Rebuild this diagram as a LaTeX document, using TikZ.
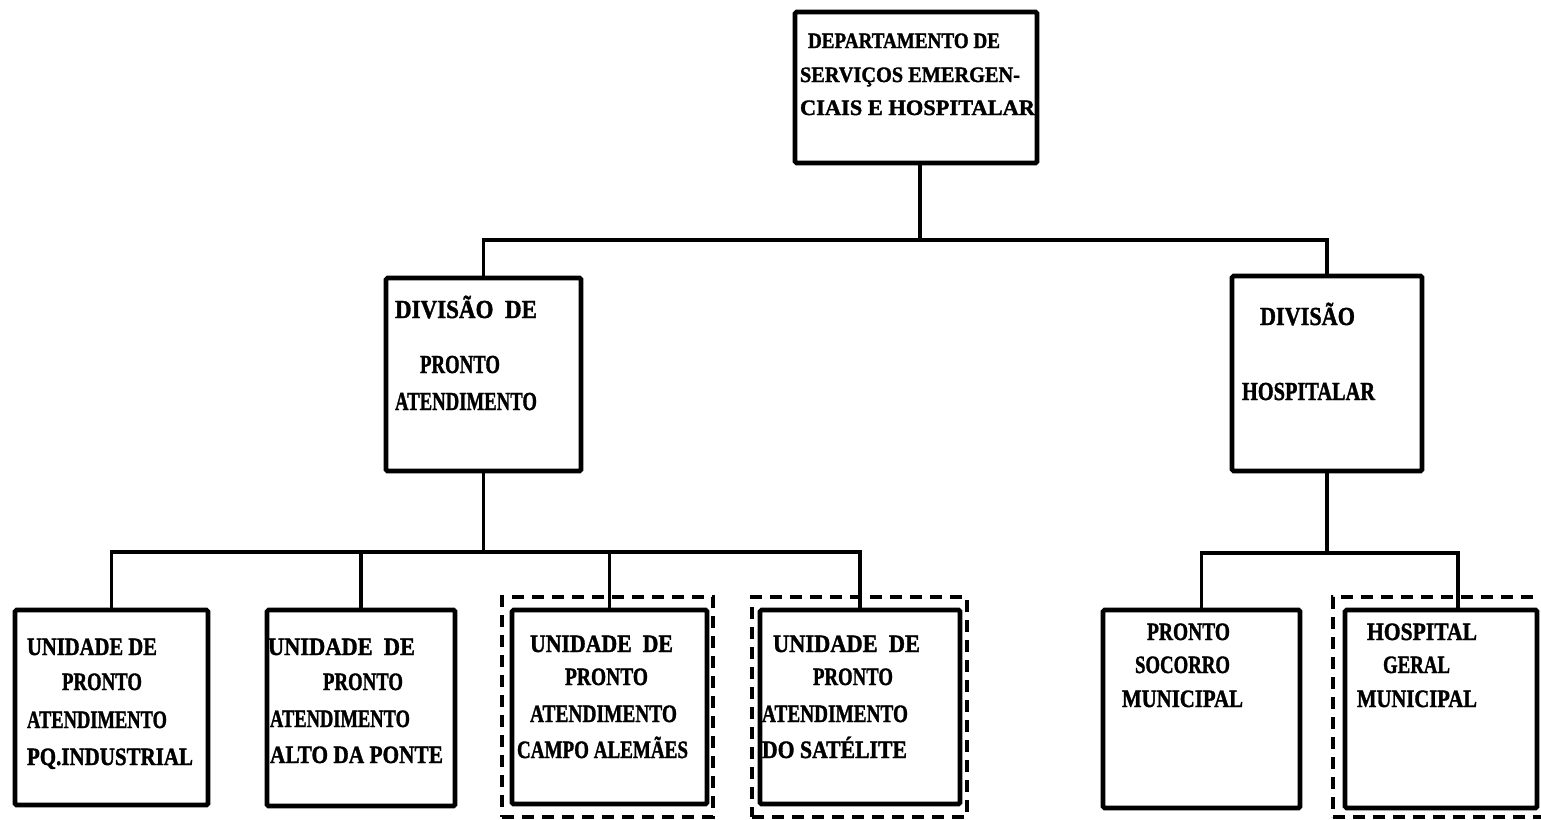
\documentclass[tikz,border=0pt]{standalone}
\usepackage{fontspec}
\setmainfont{Liberation Serif}[BoldFeatures={FakeBold=1.5}]
\usepackage{graphicx}
\newcommand\fitw[2]{\resizebox{#1pt}{\height}{#2}}
\begin{document}
\begin{tikzpicture}[x=1pt,y=-1pt,
  box/.style={draw, line width=4.6pt, rounded corners=1.5pt, inner sep=0pt, outer sep=0pt, anchor=north west},
  outerbox/.style={draw, line width=3.2pt, dash pattern=on 12pt off 8pt, inner sep=0pt, outer sep=0pt, anchor=north west},
  conn/.style={draw, line width=3.2pt},
  tx/.style={anchor=base west, inner sep=0pt, outer sep=0pt},
  ttop/.style={tx, font=\bfseries\fontsize{22}{22}\selectfont},
  tdiv/.style={tx, font=\bfseries\fontsize{26}{26}\selectfont},
  tbot/.style={tx, font=\bfseries\fontsize{25}{25}\selectfont}]
\useasboundingbox (0,0) rectangle (1541,819);
\fill[white] (0,0) rectangle (1541,819);

% boxes
\node[box, minimum width=242pt, minimum height=151pt] (top) at (795,12) {};
\node[box, minimum width=195pt, minimum height=193pt] (ldiv) at (386,278) {};
\node[box, minimum width=190pt, minimum height=195pt] (rdiv) at (1232,276) {};
\node[outerbox, minimum width=211pt, minimum height=220pt] (o3) at (502,597) {};
\node[outerbox, minimum width=215pt, minimum height=220pt] (o4) at (752,597) {};
\node[outerbox, minimum width=230pt, minimum height=220pt] (o6) at (1333,597) {};
\node[box, minimum width=193pt, minimum height=195pt] (b1) at (15,610) {};
\node[box, minimum width=188pt, minimum height=196pt] (b2) at (267,610) {};
\node[box, minimum width=195pt, minimum height=194pt] (b3) at (512,610) {};
\node[box, minimum width=200pt, minimum height=194pt] (b4) at (760,610) {};
\node[box, minimum width=197pt, minimum height=198pt] (b5) at (1103,610) {};
\node[box, minimum width=192pt, minimum height=198pt] (b6) at (1345,610) {};

% connectors
\coordinate (busA) at (920,240);
\coordinate (topout) at (920,163);
\draw[conn] (topout) -- (busA);
\draw[conn] (ldiv.north) |- (busA) -| (rdiv.north);
\coordinate (busB) at (ldiv.south |- 0,552);
\draw[conn] (ldiv.south) -- (busB);
\draw[conn] (b1.north) |- (busB) -| (b4.north);
\draw[conn] (b2.north) -- (b2.north |- busB);
\draw[conn] (b3.north) -- (b3.north |- busB);
\coordinate (busC) at (rdiv.south |- 0,553);
\coordinate (b6in) at (1458,610);
\draw[conn] (rdiv.south) -- (busC);
\draw[conn] (b5.north) |- (busC) -| (b6in);

% texts
\node[ttop] (t0a) at (808,48) {\fitw{192}{DEPARTAMENTO DE}};
\node[ttop] (t0b) at (800,82) {\fitw{220}{SERVIÇOS EMERGEN-}};
\node[ttop] (t0c) at (800,115) {\fitw{235}{CIAIS E HOSPITALAR}};

\node[tdiv] (t1a) at (395,318) {\fitw{142}{DIVISÃO\ \ DE}};
\node[tdiv] (t1b) at (420,373) {\fitw{80}{PRONTO}};
\node[tdiv] (t1c) at (395,410) {\fitw{142}{ATENDIMENTO}};

\node[tdiv] (t2a) at (1260,325) {\fitw{95}{DIVISÃO}};
\node[tdiv] (t2b) at (1242,400) {\fitw{133}{HOSPITALAR}};

\node[tbot] (t3a) at (27,655) {\fitw{130}{UNIDADE DE}};
\node[tbot] (t3b) at (62,690) {\fitw{80}{PRONTO}};
\node[tbot] (t3c) at (27,728) {\fitw{140}{ATENDIMENTO}};
\node[tbot] (t3d) at (27,765) {\fitw{166}{PQ.INDUSTRIAL}};

\node[tbot] (t4a) at (268,655) {\fitw{147}{UNIDADE\ \ DE}};
\node[tbot] (t4b) at (323,690) {\fitw{80}{PRONTO}};
\node[tbot] (t4c) at (270,727) {\fitw{140}{ATENDIMENTO}};
\node[tbot] (t4d) at (270,763) {\fitw{173}{ALTO DA PONTE}};

\node[tbot] (t5a) at (530,652) {\fitw{143}{UNIDADE\ \ DE}};
\node[tbot] (t5b) at (565,685) {\fitw{83}{PRONTO}};
\node[tbot] (t5c) at (530,722) {\fitw{147}{ATENDIMENTO}};
\node[tbot] (t5d) at (517,758) {\fitw{171}{CAMPO ALEMÃES}};

\node[tbot] (t6a) at (773,652) {\fitw{147}{UNIDADE\ \ DE}};
\node[tbot] (t6b) at (813,685) {\fitw{80}{PRONTO}};
\node[tbot] (t6c) at (762,722) {\fitw{146}{ATENDIMENTO}};
\node[tbot] (t6d) at (762,758) {\fitw{145}{DO SATÉLITE}};

\node[tbot] (t7a) at (1147,640) {\fitw{83}{PRONTO}};
\node[tbot] (t7b) at (1135,673) {\fitw{95}{SOCORRO}};
\node[tbot] (t7c) at (1122,707) {\fitw{121}{MUNICIPAL}};

\node[tbot] (t8a) at (1367,640) {\fitw{110}{HOSPITAL}};
\node[tbot] (t8b) at (1383,673) {\fitw{67}{GERAL}};
\node[tbot] (t8c) at (1357,707) {\fitw{120}{MUNICIPAL}};
\end{tikzpicture}
\end{document}
